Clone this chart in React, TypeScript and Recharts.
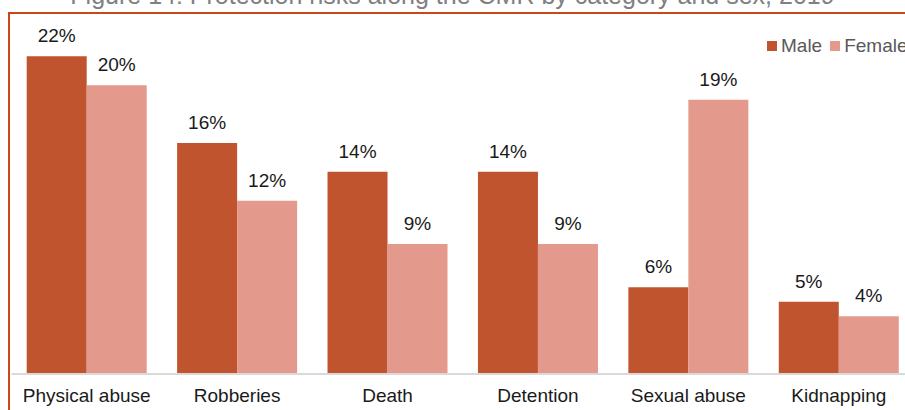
import { BarChart, Bar, XAxis, YAxis, LabelList } from 'recharts';

const categories = ['Physical abuse', 'Robberies', 'Death', 'Detention', 'Sexual abuse', 'Kidnapping'];
const maleValues = [22, 16, 14, 14, 6, 5];
const femaleValues = [20, 12, 9, 9, 19, 4];

const MALE = '#C0542E';
const FEMALE = '#E3998B';
const FONT = '"Liberation Sans", Arial, sans-serif';

const data = categories.map((name, i) => ({ name, male: maleValues[i], female: femaleValues[i] }));

const CategoryTick = (props: any) => {
    const { x, y, payload } = props;
    return (
        <text x={x} y={y} dy={28} textAnchor="middle" fill="#1a1a1a" fontSize={19} fontFamily={FONT}>
            {payload.value}
        </text>
    );
};

export default function App() {
    return (
        <div style={{ position: 'absolute', left: 0, top: 0, width: 905, height: 410, overflow: 'hidden', background: '#fff', fontFamily: FONT }}>
            {/* title, clipped at the top of the frame */}
            <div style={{ position: 'absolute', left: 0, top: -19, width: 905, textAlign: 'center', fontSize: 25, color: '#808080', whiteSpace: 'nowrap' }}>
                Figure 14: Protection risks along the CMR by category and sex, 2019
            </div>
            <div style={{ position: 'absolute', left: 8, top: 12, width: 920, height: 420, borderLeft: '2px solid #C9471A', borderTop: '2px solid #C9471A' }} />

            <div style={{ position: 'absolute', left: 0, top: 0 }}>
                <BarChart
                    width={914}
                    height={410}
                    data={data}
                    margin={{ top: 13, right: 0, left: 11.5, bottom: 0 }}
                    barCategoryGap={15.2}
                    barGap={0}
                >
                    <XAxis
                        dataKey="name"
                        height={36}
                        tickLine={false}
                        tickSize={0}
                        tickMargin={0}
                        axisLine={{ stroke: '#D9D9D9', strokeWidth: 2 }}
                        tick={<CategoryTick />}
                        interval={0}
                    />
                    <YAxis hide domain={[0, 25]} />
                    <Bar dataKey="male" fill={MALE} isAnimationActive={false}>
                        <LabelList dataKey="male" position="top" offset={14} formatter={(v: any) => `${v}%`} fill="#1a1a1a" fontSize={19} fontFamily={FONT} />
                    </Bar>
                    <Bar dataKey="female" fill={FEMALE} isAnimationActive={false}>
                        <LabelList dataKey="female" position="top" offset={14} formatter={(v: any) => `${v}%`} fill="#1a1a1a" fontSize={19} fontFamily={FONT} />
                    </Bar>
                </BarChart>
            </div>

            {/* legend */}
            <div style={{ position: 'absolute', left: 767, top: 35, display: 'flex', alignItems: 'center', fontSize: 19, color: '#595959', whiteSpace: 'nowrap' }}>
                <span style={{ display: 'inline-block', width: 10, height: 10, background: MALE, marginRight: 4 }} />
                <span style={{ marginRight: 8 }}>Male</span>
                <span style={{ display: 'inline-block', width: 10, height: 10, background: FEMALE, marginRight: 4 }} />
                <span>Female</span>
            </div>
        </div>
    );
}
